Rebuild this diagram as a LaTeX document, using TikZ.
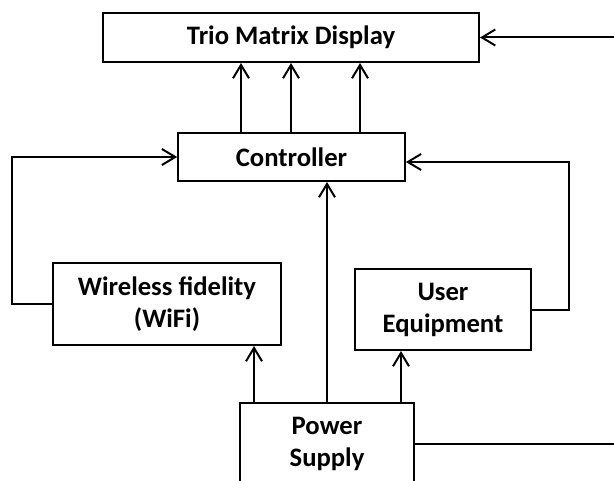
\documentclass[tikz,border=0pt]{standalone}
\usepackage{fontspec}
\setmainfont{Carlito}
\usepackage{tikz}
\usetikzlibrary{positioning, arrows.meta}

\begin{document}
\begin{tikzpicture}[->, >={Straight Barb[length=10pt,width=12pt]}, x=0.75pt, y=-0.75pt, line width=1.5pt,
    block/.style={draw, rectangle, align=center, font=\fontsize{20}{24}\selectfont\bfseries, inner sep=0pt}]
    \clip (0,0) rectangle (614,481);
    \node[block, minimum width=282pt, minimum height=36.75pt] (disp) at (291,37.5) {Trio Matrix Display};
    \node[block, minimum width=170pt, minimum height=36pt] (ctrl) at (291.5,157) {Controller};
    \node[block, minimum width=171pt, minimum height=61.5pt] (wifi) at (167,304) {Wireless fidelity\\(WiFi)};
    \node[block, minimum width=132pt, minimum height=60.75pt] (user) at (443,309.5) {User\\Equipment};
    \node[block, minimum width=130.5pt, minimum height=61.5pt] (power) at (327,444) {Power\\Supply};
    \foreach \dx in {-37.5,0,51.75}
      \draw ([xshift=\dx pt]disp.south |- ctrl.north) -- ([xshift=\dx pt]disp.south);
    \path
      (power.north) edge (power.north |- ctrl.south)
      ([xshift=-54.75pt]power.north) edge ([xshift=-54.75pt]power.north |- wifi.south)
      ([xshift=55.5pt]power.north) edge ([xshift=55.5pt]power.north |- user.south);
    \draw (wifi.west) -- ++(-40.5,0) |- (ctrl.west);
    \draw (user.east) -- ++(37,0) |- ([yshift=-3.75pt]ctrl.east);
    \draw (power.east) -- ++(230,0) |- (disp.east);
  \end{tikzpicture}
\end{document}
